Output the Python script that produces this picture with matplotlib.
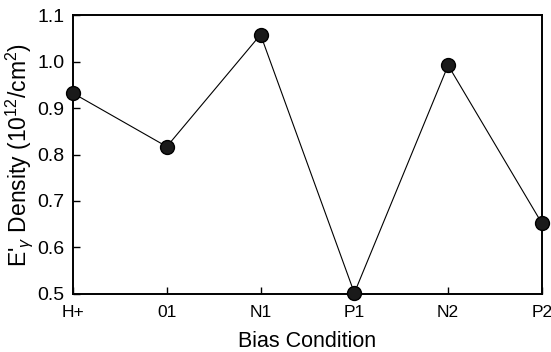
import matplotlib
matplotlib.use("Agg")
import matplotlib.pyplot as plt

categories = ["H+", "01", "N1", "P1", "N2", "P2"]
density = [0.932, 0.817, 1.058, 0.502, 0.992, 0.652]
yticks = [0.5, 0.6, 0.7, 0.8, 0.9, 1.0, 1.1]

plt.rcParams['font.family'] = ['Liberation Sans', 'DejaVu Sans']
plt.rcParams['mathtext.fontset'] = 'custom'
plt.rcParams['mathtext.rm'] = 'Liberation Sans'
plt.rcParams['mathtext.it'] = 'Liberation Sans:italic'

fig = plt.figure(figsize=(5.51, 3.52), dpi=100)
ax = fig.add_axes([0.1325, 0.165, 0.851, 0.792])
x = list(range(len(categories)))
ax.plot(x, density, color='black', lw=0.8, marker='o', markersize=10,
        markerfacecolor='#1a1a1a', markeredgecolor='black', clip_on=False, zorder=3)
ax.set_xlim(0, len(categories) - 1)
ax.set_ylim(0.5, 1.1)
ax.set_xticks(x)
ax.set_xticklabels(categories, fontsize=12.5)
ax.set_yticks(yticks)
ax.set_yticklabels([f"{v:.1f}" for v in yticks], fontsize=14)
ax.tick_params(axis='x', direction='in', length=5, width=1, top=False, pad=8)
ax.tick_params(axis='y', direction='in', length=5, width=1, right=False, pad=6)
for s in ax.spines.values():
    s.set_linewidth(1.4)
ax.set_xlabel("Bias Condition", fontsize=15.5, labelpad=8)
ax.set_ylabel(r"E$'_{\gamma}$ Density (10$^{12}$/cm$^{2}$)", fontsize=16.5, labelpad=2)
fig.savefig("out.png", dpi=100)
